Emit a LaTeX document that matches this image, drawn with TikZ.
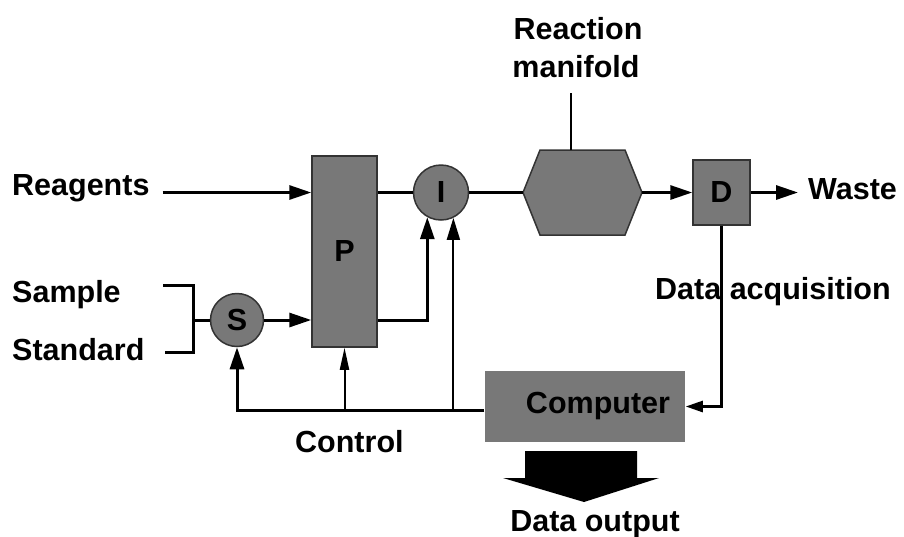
\documentclass[tikz,border=0pt]{standalone}
\usepackage{fontspec}
\newfontfamily\figfont{Liberation Sans}
\usetikzlibrary{arrows.meta, calc}

\begin{document}
\begin{tikzpicture}[
    x=1pt, y=-1pt,
    lbl/.style={font=\fontsize{30.5}{38}\selectfont\figfont\bfseries, inner sep=0pt},
    unit/.style={draw=black!80, line width=1.5pt, fill=black!53, inner sep=0pt,
                 font=\fontsize{30.5}{38}\selectfont\figfont\bfseries},
    ubox/.style={unit, rectangle},
    uvalve/.style={unit, circle},
    ln/.style={line width=3pt},
    arr/.style={-{Triangle[length=22pt, width=14pt]}, line width=3pt},
    carr/.style={-{Triangle[length=22pt, width=13pt]}, line width=2pt},
    tarr/.style={-{Triangle[length=22pt, width=9pt]}, line width=2pt},
    sarr/.style={-{Triangle[length=17pt, width=11pt]}, line width=2.5pt},
  ]
    \useasboundingbox (0,0) rectangle (904,536);

    % units
    \node[ubox, minimum width=65pt, minimum height=191pt] (P) at (344.5,251.5) {P};
    \node[uvalve, minimum size=55pt] (I) at (441,192.5) {I};
    \node[uvalve, minimum size=53pt] (S) at (237,320) {S};
    \node[ubox, minimum width=57pt, minimum height=65pt] (D) at (721.5,192.5) {D};
    \node[ubox, draw=none, minimum width=200pt, minimum height=71pt] (C) at (585,406.5)
         {\hspace*{26pt}Computer};

    % reaction manifold
    \coordinate (M) at (582.5,192.5);
    \filldraw[unit] ($(M)+(-59.5,0)$) coordinate (Mw) -- ++(17,-42.5) -- ++(85,0)
        -- ++(17,42.5) coordinate (Me) -- ++(-17,42.5) -- ++(-85,0) -- cycle;
    \coordinate (Mt) at (571,150);

    % labels
    \node[lbl, anchor=base west] (reag)  at (12,195)  {Reagents};
    \node[lbl, anchor=base west] (samp)  at (12,302)  {Sample};
    \node[lbl, anchor=base west] (stand) at (12,360)  {Standard};
    \node[lbl, anchor=base]      (react) at (578,39)  {Reaction};
    \node[lbl, anchor=base]      (manif) at (576,77)  {manifold};
    \node[lbl, anchor=base west] (waste) at (808,199) {Waste};
    \node[lbl, anchor=base west] (ctrl)  at (295,452) {Control};
    \node[lbl, anchor=base]      (dout)  at (595,531) {Data output};

    % flow line
    \draw[arr] (reag.base east |- I) ++(13,0) -- (P.west |- I);
    \draw[ln]  (P.east |- I) -- (I);
    \draw[ln]  (I) -- (Mw);
    \draw[arr] (Me) -- (D);
    \draw[arr, shorten >=10pt] (D) -- (waste.base west |- D);
    \draw[line width=2pt] (Mt) -- ++(0,-57);

    % sample / standard selection
    \coordinate (bt) at (163,285);
    \coordinate (bb) at (165,352);
    \coordinate (bj) at (193,320);
    \draw[ln]  (bt) -| (bj) |- (bb);
    \draw[ln]  (bj) -- (S);
    \draw[arr] (S) -- (P.west |- S);
    \draw[arr] (P.east |- S) -| (I.-119);

    % control from computer
    \coordinate (fb) at ([shift={(0,4)}]C.west);
    \draw[arr]  (fb) -| (S.south);
    \draw[tarr] (P.south |- fb) -- (P.south);
    \draw[carr] (I.-64 |- fb) -- (I.-64);

    % data acquisition
    \draw[sarr] (D.south) |- (C.east);
    \node[lbl, anchor=base west] (acq) at (655,299) {Data acquisition};

    % data output
    \coordinate (out) at (581,451);
    \fill (out) ++(-56,0) -- ++(112,0) -- ++(0,27) -- ++(22,0) -- ++(-75,24)
        -- ++(-81,-24) -- ++(22,0) -- cycle;
\end{tikzpicture}
\end{document}
